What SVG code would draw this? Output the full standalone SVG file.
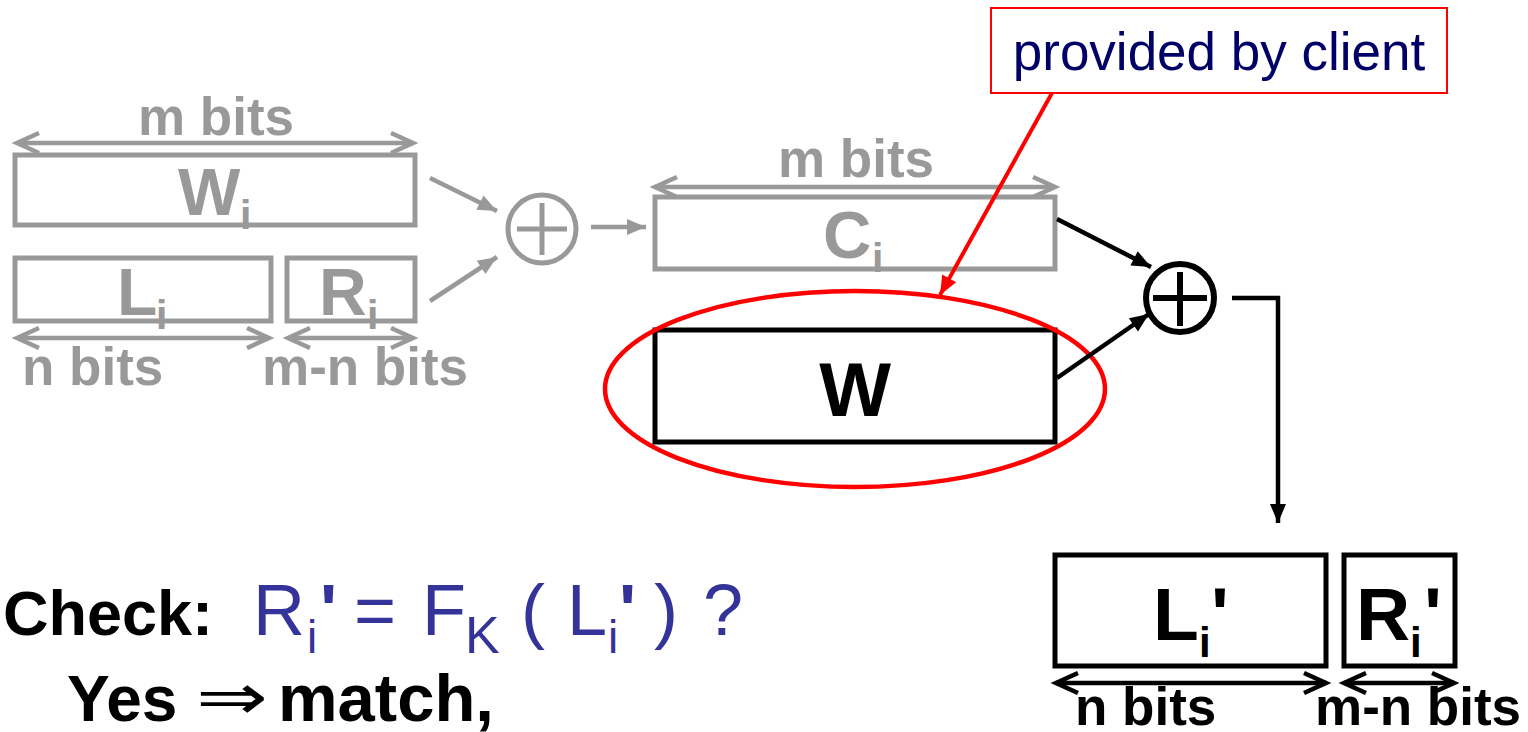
<svg xmlns="http://www.w3.org/2000/svg" width="1528" height="732" viewBox="0 0 1528 732">
  <style>
    .bold { font-family: "Liberation Sans", Arial, sans-serif; font-weight: bold; }
    .reg { font-family: "Liberation Sans", Arial, sans-serif; }
    .gray { fill: #999999; }
    .blk { fill: #000000; }
    .blue { fill: #333399; }
    .boxG { fill: #ffffff; stroke: #999999; stroke-width: 5; }
    .boxK { fill: #ffffff; stroke: #000000; stroke-width: 5; }
    .dimG { stroke: #999999; stroke-width: 4.5; fill: none; marker-start: url(#chevG); marker-end: url(#chevG); }
    .dimK { stroke: #000000; stroke-width: 4.5; fill: none; marker-start: url(#chevK); marker-end: url(#chevK); }
    .wireG { stroke: #999999; stroke-width: 4.5; fill: none; marker-end: url(#headG); }
    .wireK { stroke: #000000; stroke-width: 4.5; fill: none; marker-end: url(#headK); }
  </style>
  <defs>
    <marker id="chevG" markerUnits="userSpaceOnUse" viewBox="-3 -13 28 26" markerWidth="28" markerHeight="26" refX="22" refY="0" orient="auto-start-reverse" overflow="visible">
      <path d="M0,-10 L22,0 L0,10" fill="none" stroke="#999999" stroke-width="4.5"/>
    </marker>
    <marker id="chevK" markerUnits="userSpaceOnUse" viewBox="-3 -13 28 26" markerWidth="28" markerHeight="26" refX="22" refY="0" orient="auto-start-reverse" overflow="visible">
      <path d="M0,-10 L22,0 L0,10" fill="none" stroke="#000000" stroke-width="4.5"/>
    </marker>
    <marker id="headG" markerUnits="userSpaceOnUse" viewBox="0 -9 19 18" markerWidth="19" markerHeight="18" refX="19" refY="0" orient="auto" overflow="visible">
      <path d="M0,-8 L19,0 L0,8 z" fill="#999999"/>
    </marker>
    <marker id="headK" markerUnits="userSpaceOnUse" viewBox="0 -9 19 18" markerWidth="19" markerHeight="18" refX="19" refY="0" orient="auto" overflow="visible">
      <path d="M0,-8 L19,0 L0,8 z" fill="#000000"/>
    </marker>
    <marker id="headR" markerUnits="userSpaceOnUse" viewBox="0 -9 19 18" markerWidth="19" markerHeight="18" refX="19" refY="0" orient="auto" overflow="visible">
      <path d="M0,-8 L19,0 L0,8 z" fill="#ff0000"/>
    </marker>
  </defs>

  <rect width="1528" height="732" fill="#ffffff"/>

  <!-- input block W_i, split into L_i and R_i -->
  <g id="node-wi">
    <text class="bold gray" x="216" y="135" font-size="53" text-anchor="middle">m bits</text>
    <line class="dimG" x1="17" y1="143" x2="413" y2="143"/>
    <rect class="boxG" x="15" y="155" width="400" height="70"/>
    <text class="bold gray" x="178" y="215" font-size="66">W</text>
    <text class="bold gray" x="240" y="229" font-size="41">i</text>
  </g>
  <g id="node-li">
    <rect class="boxG" x="15" y="258" width="256" height="63"/>
    <text class="bold gray" x="117" y="315" font-size="66">L</text>
    <text class="bold gray" x="156" y="329" font-size="41">i</text>
    <line class="dimG" x1="17" y1="338" x2="269" y2="338"/>
    <text class="bold gray" x="22" y="385" font-size="53">n bits</text>
  </g>
  <g id="node-ri">
    <rect class="boxG" x="287" y="258" width="128" height="63"/>
    <text class="bold gray" x="319" y="315" font-size="66">R</text>
    <text class="bold gray" x="367" y="329" font-size="41">i</text>
    <line class="dimG" x1="288" y1="338" x2="413" y2="338"/>
    <text class="bold gray" x="262" y="385" font-size="53">m-n bits</text>
  </g>

  <!-- first XOR -->
  <g id="node-xor1">
    <circle cx="542" cy="229" r="34" fill="none" stroke="#999999" stroke-width="5"/>
    <line x1="517" y1="229" x2="567" y2="229" stroke="#999999" stroke-width="5"/>
    <line x1="542" y1="203" x2="542" y2="255" stroke="#999999" stroke-width="5"/>
  </g>

  <!-- C_i -->
  <g id="node-ci">
    <text class="bold gray" x="856" y="177" font-size="53" text-anchor="middle">m bits</text>
    <line class="dimG" x1="655" y1="187" x2="1055" y2="187"/>
    <rect class="boxG" x="655" y="197" width="400" height="72"/>
    <text class="bold gray" x="823" y="258" font-size="67">C</text>
    <text class="bold gray" x="872" y="272" font-size="41">i</text>
  </g>

  <!-- W supplied by the client -->
  <g id="node-w">
    <rect class="boxK" x="655" y="330" width="400" height="112"/>
    <text class="bold blk" x="855" y="416" font-size="76" text-anchor="middle">W</text>
  </g>

  <!-- second XOR -->
  <g id="node-xor2">
    <circle cx="1180" cy="298" r="34" fill="none" stroke="#000000" stroke-width="6"/>
    <line x1="1153" y1="298" x2="1207" y2="298" stroke="#000000" stroke-width="6"/>
    <line x1="1180" y1="272" x2="1180" y2="326" stroke="#000000" stroke-width="6"/>
  </g>

  <!-- result L_i' and R_i' -->
  <g id="node-li2">
    <rect class="boxK" x="1055" y="555" width="271" height="111"/>
    <text class="bold blk" x="1153" y="640" font-size="75">L</text>
    <text class="bold blk" x="1199" y="657" font-size="42">i</text>
    <text class="bold blk" x="1211" y="640" font-size="75">'</text>
    <line class="dimK" x1="1056" y1="683" x2="1326" y2="683"/>
    <text class="bold blk" x="1075" y="725" font-size="53">n bits</text>
  </g>
  <g id="node-ri2">
    <rect class="boxK" x="1344" y="555" width="111" height="111"/>
    <text class="bold blk" x="1356" y="640" font-size="75">R</text>
    <text class="bold blk" x="1410" y="657" font-size="42">i</text>
    <text class="bold blk" x="1424" y="640" font-size="75">'</text>
    <line class="dimK" x1="1344" y1="683" x2="1454" y2="683"/>
    <text class="bold blk" x="1315" y="725" font-size="53">m-n bits</text>
  </g>

  <!-- callout -->
  <g id="node-callout">
    <rect x="991" y="8" width="456" height="85" fill="#ffffff" stroke="#ff0000" stroke-width="2"/>
    <text class="reg" x="1219" y="70" font-size="53" fill="#000066" text-anchor="middle">provided by client</text>
    <ellipse cx="855" cy="389" rx="250" ry="98" fill="none" stroke="#ff0000" stroke-width="4.5"/>
  </g>

  <!-- connectors -->
  <g id="connectors">
    <line class="wireG" x1="430" y1="178" x2="497" y2="211"/>
    <line class="wireG" x1="430" y1="301" x2="497" y2="257"/>
    <line class="wireG" x1="591" y1="227" x2="646" y2="227"/>
    <line class="wireK" x1="1057" y1="219" x2="1151" y2="267"/>
    <line class="wireK" x1="1057" y1="378" x2="1149" y2="314"/>
    <polyline class="wireK" points="1232,298 1278,298 1278,523"/>
    <line x1="1052" y1="93" x2="940" y2="295" stroke="#ff0000" stroke-width="4" marker-end="url(#headR)"/>
  </g>

  <!-- check condition -->
  <g id="check">
    <text class="bold blk" x="3" y="635" font-size="63">Check:</text>
    <text class="reg blue" x="253" y="635" font-size="72">R</text>
    <text class="reg blue" x="307" y="653" font-size="46">i</text>
    <text class="bold blue" x="320" y="635" font-size="72">'</text>
    <text class="reg blue" x="354" y="635" font-size="72">=</text>
    <text class="reg blue" x="422" y="635" font-size="72">F</text>
    <text class="reg blue" x="465" y="653" font-size="52">K</text>
    <text class="reg blue" x="521" y="635" font-size="72">(</text>
    <text class="reg blue" x="567" y="635" font-size="72">L</text>
    <text class="reg blue" x="608" y="653" font-size="46">i</text>
    <text class="bold blue" x="619" y="635" font-size="72">'</text>
    <text class="reg blue" x="654" y="635" font-size="72">)</text>
    <text class="reg blue" x="703" y="635" font-size="72">?</text>
    <text class="bold blk" x="67" y="721" font-size="64">Yes</text>
    <text x="196" y="719" font-size="64" font-family="DejaVu Sans, sans-serif" textLength="72" lengthAdjust="spacingAndGlyphs" fill="#000000">⇒</text>
    <text class="bold blk" x="278" y="721" font-size="67">match,</text>
  </g>
</svg>
